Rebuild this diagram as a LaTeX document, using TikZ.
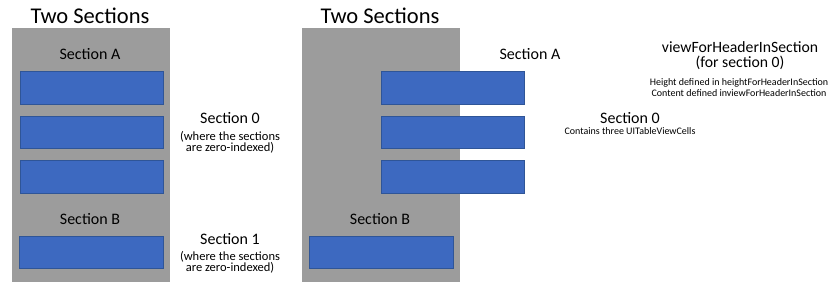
\documentclass[tikz,border=0pt]{standalone}
\usepackage{fontspec}
\setmainfont{Carlito}
\usetikzlibrary{positioning}

\definecolor{panelgray}{HTML}{9C9C9C}
\definecolor{cellblue}{HTML}{3D69C0}
\definecolor{celledge}{HTML}{2F5597}

\begin{document}
\begin{tikzpicture}[
  x=1pt, y=-1pt,
  panel/.style={fill=panelgray, draw=none},
  cell/.style={rectangle, draw=celledge, fill=cellblue, line width=0.8pt,
    minimum width=143pt, minimum height=32.5pt, inner sep=0pt},
  ttl/.style={font=\fontsize{22.5}{26}\selectfont, inner sep=0pt},
  hdr/.style={font=\fontsize{16}{18}\selectfont, inner sep=0pt},
  note/.style={font=\fontsize{12.5}{11.5}\selectfont, align=center, inner sep=0pt},
  tiny/.style={font=\fontsize{10}{11}\selectfont, align=center, inner sep=0pt},
]
  \useasboundingbox (0,0) rectangle (835,291);

  % Left: two sections stacked in one table
  \fill[panel] (12,28) rectangle (170,282);
  \node[ttl] (ttlL) at (90,16) {Two Sections};
  \node[hdr] (secA) at (90,54) {Section A};
  \node[cell] (a1) at (91.5,88) {};
  \node[cell] (a2) at (91.5,132.5) {};
  \node[cell] (a3) at (91.5,177) {};
  \node[hdr] (secB) at (90,219) {Section B};
  \node[cell, minimum width=144pt] (b1) at (91,252.5) {};

  \node[hdr] (sec0) at (230,118) {Section 0};
  \node[note] (sec0n) at (230,142.5) {(where the sections\\are zero-indexed)};
  \node[hdr] (sec1) at (230,239) {Section 1};
  \node[note] (sec1n) at (230,262.5) {(where the sections\\are zero-indexed)};

  % Right: section 0 pulled out with its header view
  \fill[panel] (302,28) rectangle (460,282);
  \node[ttl] (ttlR) at (380,16) {Two Sections};
  \node[hdr] (hdrA) at (530,54) {Section A};
  \node[cell] (c1) at (452.5,88) {};
  \node[cell] (c2) at (452.5,132.5) {};
  \node[cell] (c3) at (452.5,177) {};
  \node[hdr] (hdrB) at (380,219) {Section B};
  \node[cell, minimum width=144pt] (d1) at (381.5,252.5) {};

  \node[hdr, align=center, font=\fontsize{15.7}{15}\selectfont] (vfh) at (740,56)
    {viewForHeaderInSection\\(for section 0)};
  \node[tiny] (vfhn) at (739,87.5)
    {Height defined in heightForHeaderInSection\\Content defined inviewForHeaderInSection};
  \node[hdr] (rsec0) at (630,118) {Section 0};
  \node[tiny] (rsec0n) at (630,131) {Contains three UITableViewCells};
\end{tikzpicture}
\end{document}
